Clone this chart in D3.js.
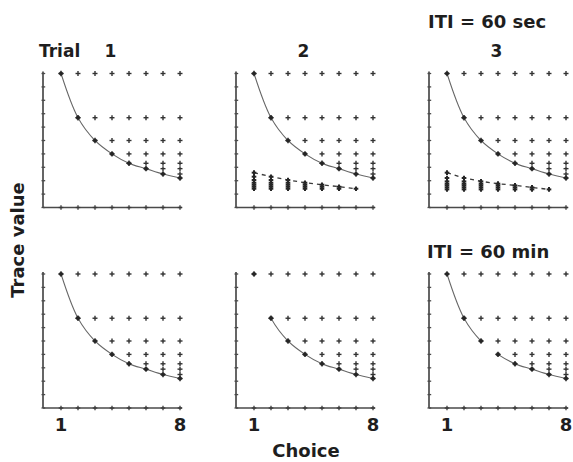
<!DOCTYPE html>
<html>
<head>
<meta charset="utf-8">
<script src="https://cdn.jsdelivr.net/npm/d3@7"></script>
<style>
  html, body { margin: 0; padding: 0; background: #fff; }
  svg { display: block; }
  text { font-family: "DejaVu Sans", sans-serif; font-weight: bold; fill: #1e1e1e; }
</style>
</head>
<body>
<svg id="chart" width="573" height="462"></svg>
<script>
// ---- data ----
const choices = [1, 2, 3, 4, 5, 6, 7, 8];
const trials = ["1", "2", "3"];
const itiLabels = ["ITI = 60 sec", "ITI = 60 min"];
// trace value of each choice on the falling curve
const traceValues = [1.0, 0.67, 0.50, 0.40, 0.33, 0.29, 0.25, 0.22];
// residual traces left from the earlier trial (60 sec ITI, trials 2 and 3)
const residualTrial2 = [0.26, 0.23, 0.205, 0.185, 0.17, 0.155, 0.14];
const residualTrial3 = [0.26, 0.22, 0.195, 0.178, 0.165, 0.15, 0.135];
const yTickValues = [0, 0.1, 0.2, 0.3, 0.4, 0.5, 0.6, 0.7, 0.8, 0.9, 1.0];
const xTickLabels = [1, 8];
// curve spans (index i joins choice i+1 to i+2) that are not inked
const curveGaps = [[], [], [], [], [0], [2]];

// ---- layout ----
const svg = d3.select("#chart");
const panelLeft = [43, 236, 429];
const panelTop = [73.5, 274];
const panelW = 137, panelH = 134;

const x = d3.scaleLinear().domain([0, 8]).range([1, panelW]);
const y = d3.scaleLinear().domain([0, 1]).range([panelH, 0]);

const ink = "#262626";

function plus(g, cx, cy, size, width, color) {
  g.append("line").attr("x1", cx - size).attr("x2", cx + size)
    .attr("y1", cy).attr("y2", cy)
    .attr("stroke", color).attr("stroke-width", width);
  g.append("line").attr("x1", cx).attr("x2", cx)
    .attr("y1", cy - size).attr("y2", cy + size)
    .attr("stroke", color).attr("stroke-width", width);
}

const panels = [];
[0, 1].forEach(row => {
  [0, 1, 2].forEach(col => {
    let residual = null;
    if (row === 0 && col === 1) residual = residualTrial2;
    if (row === 0 && col === 2) residual = residualTrial3;
    panels.push({ row, col, residual, gaps: curveGaps[row * 3 + col] });
  });
});

panels.forEach(p => {
  const g = svg.append("g")
    .attr("transform", `translate(${panelLeft[p.col]},${panelTop[p.row]})`);

  // y axis with small ticks every 0.1
  g.append("line").attr("x1", 0).attr("x2", 0)
    .attr("y1", y(1) - 2).attr("y2", y(0))
    .attr("stroke", "#4a4a4a").attr("stroke-width", 1.7);
  g.selectAll(".ytick").data(yTickValues).enter().append("line")
    .attr("x1", -1.5).attr("x2", 2.2)
    .attr("y1", d => y(d)).attr("y2", d => y(d))
    .attr("stroke", "#4a4a4a").attr("stroke-width", 1.3);

  // x axis with a cross at each choice
  g.append("line").attr("x1", 0).attr("x2", x(8) + 2)
    .attr("y1", y(0)).attr("y2", y(0))
    .attr("stroke", "#4a4a4a").attr("stroke-width", 1.7);
  choices.forEach(c => plus(g, x(c), y(0), 2.3, 1.3, "#3a3a3a"));

  // smooth hyperbolic trace curve through the diagonal points
  const pts = choices.map((c, i) => [c, traceValues[i]]);
  const line = d3.line().x(d => x(d[0])).y(d => y(d[1]))
    .curve(d3.curveCatmullRom.alpha(0.5));
  for (let i = 0; i < pts.length - 1; i++) {
    if (p.gaps.includes(i)) continue;
    const clipId = `clip-${p.row}-${p.col}-${i}`;
    g.append("clipPath").attr("id", clipId).append("rect")
      .attr("x", x(pts[i][0])).attr("y", -5)
      .attr("width", x(pts[i + 1][0]) - x(pts[i][0])).attr("height", panelH + 10);
    g.append("path").datum(pts).attr("d", line)
      .attr("clip-path", `url(#${clipId})`)
      .attr("fill", "none").attr("stroke", "#666").attr("stroke-width", 1.1);
  }

  // triangular grid: row j has a cross at every choice from j to 8
  traceValues.forEach((v, j) => {
    choices.forEach((c, k) => {
      if (k < j) return;
      if (k === j) {
        g.append("circle").attr("cx", x(c)).attr("cy", y(v)).attr("r", 2.1).attr("fill", ink);
        plus(g, x(c), y(v), 2.7, 1.4, ink);
      } else {
        plus(g, x(c), y(v), 2.5, 1.4, "#333");
      }
    });
  });

  // residual traces: dashed line with stacked crosses beneath each choice
  if (p.residual) {
    const res = p.residual;
    const rPts = res.map((v, i) => [choices[i], v]);
    g.append("path").datum(rPts)
      .attr("d", d3.line().x(d => x(d[0])).y(d => y(d[1])))
      .attr("fill", "none").attr("stroke", "#3a3a3a").attr("stroke-width", 1.3)
      .attr("stroke-dasharray", "4,4");
    res.forEach((v, k) => {
      res.forEach((w, j) => {
        if (j < k) return;
        plus(g, x(choices[k]), y(w), 2.3, 2, ink);
      });
    });
  }
});

// ---- text ----
svg.append("text").attr("x", 39).attr("y", 57).attr("font-size", 17).text("Trial");
trials.forEach((t, i) => {
  svg.append("text").attr("x", panelLeft[i] + panelW / 2 - 1).attr("y", 57)
    .attr("text-anchor", "middle").attr("font-size", 17).text(t);
});
svg.append("text").attr("x", 428).attr("y", 28).attr("font-size", 18).text(itiLabels[0]);
svg.append("text").attr("x", 427).attr("y", 258).attr("font-size", 18).text(itiLabels[1]);

panelLeft.forEach(px => {
  xTickLabels.forEach(c => {
    svg.append("text").attr("x", px + x(c)).attr("y", 431)
      .attr("text-anchor", "middle").attr("font-size", 18).text(c);
  });
});
svg.append("text").attr("x", 306).attr("y", 457)
  .attr("text-anchor", "middle").attr("font-size", 18).text("Choice");
svg.append("text")
  .attr("transform", "translate(24,240) rotate(-90)")
  .attr("text-anchor", "middle").attr("font-size", 18).text("Trace value");
</script>
</body>
</html>
